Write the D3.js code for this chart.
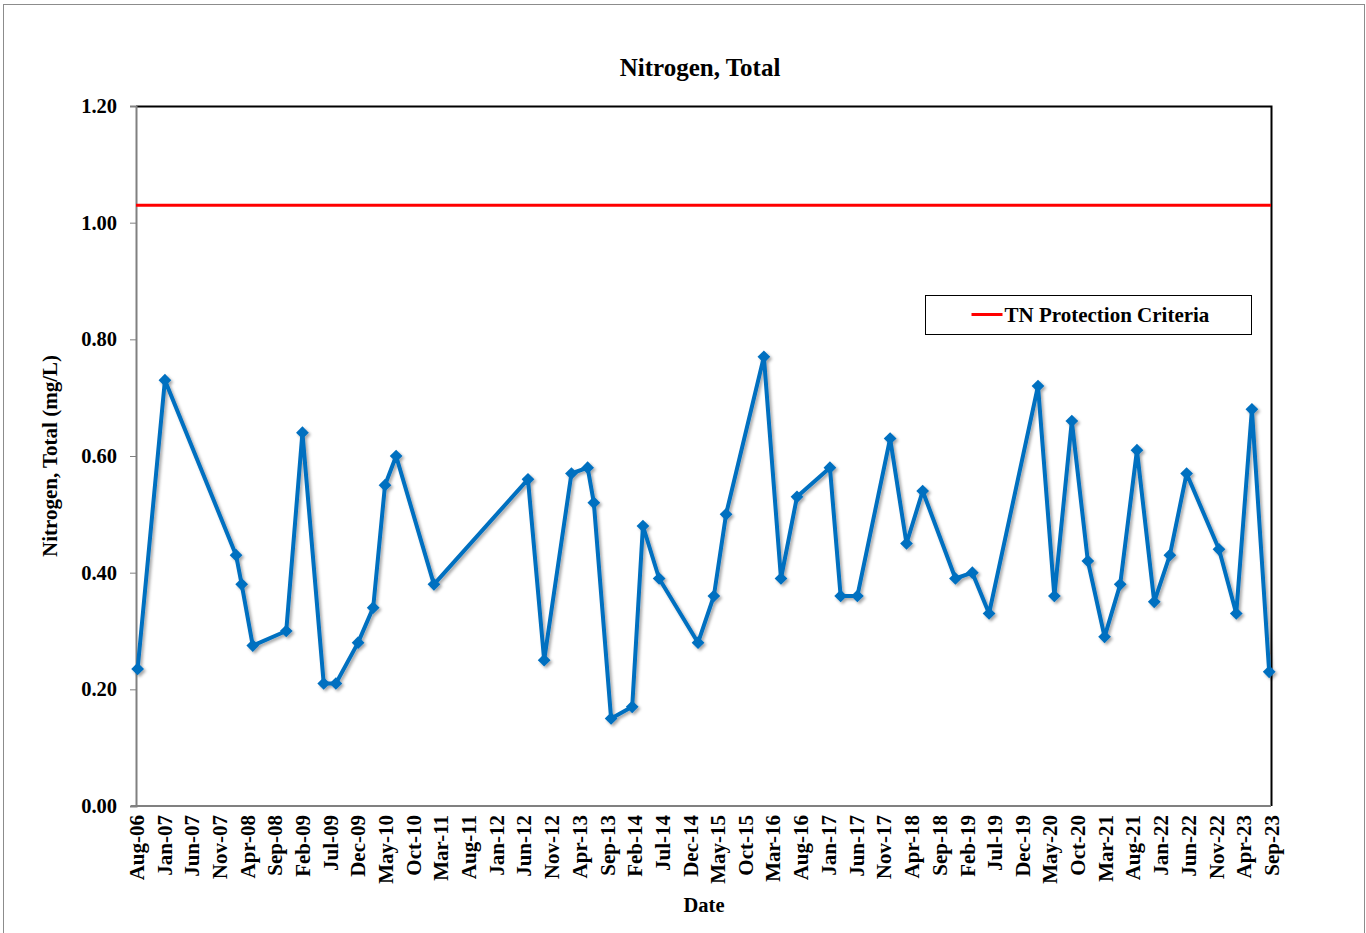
<!DOCTYPE html>
<html>
<head>
<meta charset="utf-8">
<script src="https://cdn.jsdelivr.net/npm/d3@7"></script>
<style>
  body { margin: 0; background: #fff; }
  svg text { font-family: "Liberation Serif", "Times New Roman", serif; font-weight: bold; fill: #000; }
</style>
</head>
<body>
<script>
// sample dates and TN results (mg/L)
var sampleDates = [
  "2006-08-10", "2007-01-07", "2008-02-02", "2008-03-04", "2008-05-04", "2008-11-04",
  "2009-02-01", "2009-05-29", "2009-08-04", "2009-12-04", "2010-02-25", "2010-05-01",
  "2010-07-01", "2011-01-25", "2012-06-25", "2012-09-22", "2013-02-19", "2013-05-19",
  "2013-06-22", "2013-09-25", "2014-01-19", "2014-03-19", "2014-06-16", "2015-01-16",
  "2015-04-13", "2015-06-19", "2016-01-13", "2016-04-16", "2016-07-13", "2017-01-10",
  "2017-03-10", "2017-06-10", "2017-12-07", "2018-03-07", "2018-06-04", "2018-12-01",
  "2019-03-04", "2019-06-04", "2020-02-28", "2020-05-28", "2020-09-01", "2020-11-28",
  "2021-02-28", "2021-05-25", "2021-08-25", "2021-11-28", "2022-02-22", "2022-05-25",
  "2022-11-19", "2023-02-22", "2023-05-19", "2023-08-22"
];
var tnValues = [
  0.235, 0.73, 0.43, 0.38, 0.275, 0.30,
  0.64, 0.21, 0.21, 0.28, 0.34, 0.55,
  0.60, 0.38, 0.56, 0.25, 0.57, 0.58,
  0.52, 0.15, 0.17, 0.48, 0.39, 0.28,
  0.36, 0.50, 0.77, 0.39, 0.53, 0.58,
  0.36, 0.36, 0.63, 0.45, 0.54, 0.39,
  0.40, 0.33, 0.72, 0.36, 0.66, 0.42,
  0.29, 0.38, 0.61, 0.35, 0.43, 0.57,
  0.44, 0.33, 0.68, 0.23
];
var criteria = 1.03;
var criteriaLabel = "TN Protection Criteria";

var xTickLabels = [
  "Aug-06", "Jan-07", "Jun-07", "Nov-07", "Apr-08", "Sep-08", "Feb-09", "Jul-09",
  "Dec-09", "May-10", "Oct-10", "Mar-11", "Aug-11", "Jan-12", "Jun-12", "Nov-12",
  "Apr-13", "Sep-13", "Feb-14", "Jul-14", "Dec-14", "May-15", "Oct-15", "Mar-16",
  "Aug-16", "Jan-17", "Jun-17", "Nov-17", "Apr-18", "Sep-18", "Feb-19", "Jul-19",
  "Dec-19", "May-20", "Oct-20", "Mar-21", "Aug-21", "Jan-22", "Jun-22", "Nov-22",
  "Apr-23", "Sep-23"
];
var yTicks = [0, 0.2, 0.4, 0.6, 0.8, 1.0, 1.2];

var parseDay = d3.timeParse("%Y-%m-%d");
var parseTick = d3.timeParse("%b-%y");
var data = sampleDates.map(function(d, i) { return {date: parseDay(d), value: tnValues[i]}; });
var tickDates = xTickLabels.map(parseTick);

// plot box
var margin = {top: 106, right: 95, bottom: 127, left: 136},
    width = 1366 - margin.left - margin.right,
    height = 933 - margin.top - margin.bottom;

var svg = d3.select("body").append("svg")
    .attr("width", 1366)
    .attr("height", 933);

// drop shadow for the series
var defs = svg.append("defs");
defs.append("filter")
    .attr("id", "shadow")
    .attr("x", "-10%").attr("y", "-10%")
    .attr("width", "120%").attr("height", "120%")
  .append("feDropShadow")
    .attr("dx", 2).attr("dy", 2)
    .attr("stdDeviation", 1.5)
    .attr("flood-color", "#000")
    .attr("flood-opacity", 0.35);

// outer chart frame
svg.append("rect")
    .attr("x", 3.5).attr("y", 4.5)
    .attr("width", 1361).attr("height", 940)
    .attr("fill", "none")
    .attr("stroke", "#8c8c8c")
    .attr("stroke-width", 1);

var g = svg.append("g")
    .attr("transform", "translate(" + margin.left + "," + margin.top + ")");

var x = d3.scaleTime()
    .domain([tickDates[0], tickDates[tickDates.length - 1]])
    .range([0, width]);
var y = d3.scaleLinear()
    .domain([0, 1.2])
    .range([height, 0]);

// top and right border of plot area
g.append("path")
    .attr("d", "M0,0.5H" + (width + 0.5) + "V" + height)
    .attr("fill", "none")
    .attr("stroke", "#000")
    .attr("stroke-width", 2);

// y axis
var yAxis = g.append("g")
    .call(d3.axisLeft(y).tickValues(yTicks).tickFormat(d3.format(".2f")).tickSize(6));
yAxis.select(".domain").attr("stroke", "#808080").attr("stroke-width", 2);
yAxis.selectAll(".tick line").attr("stroke", "#808080");
yAxis.selectAll(".tick text")
    .attr("x", -19)
    .style("font-size", "20.5px");

// x axis
var xAxis = g.append("g")
    .attr("transform", "translate(0," + height + ")")
    .call(d3.axisBottom(x).tickValues(tickDates).tickFormat(function(d, i) { return xTickLabels[i]; }).tickSize(0));
xAxis.select(".domain").attr("stroke", "#808080").attr("stroke-width", 2)
    .attr("d", "M-5,0H" + width);
xAxis.selectAll(".tick text")
    .attr("transform", "rotate(-90)")
    .attr("x", -9)
    .attr("y", 0)
    .attr("dy", "0.35em")
    .style("text-anchor", "end")
    .style("font-size", "21px");

// criteria line
g.append("line")
    .attr("x1", 0).attr("x2", width)
    .attr("y1", y(criteria)).attr("y2", y(criteria))
    .attr("stroke", "#ff0000")
    .attr("stroke-width", 3);

// TN series
var series = g.append("g").attr("filter", "url(#shadow)");
series.append("path")
    .datum(data)
    .attr("fill", "none")
    .attr("stroke", "#0070c0")
    .attr("stroke-width", 4)
    .attr("stroke-linejoin", "round")
    .attr("d", d3.line()
        .x(function(d) { return x(d.date); })
        .y(function(d) { return y(d.value); }));

series.selectAll(".pt")
    .data(data)
  .enter().append("path")
    .attr("class", "pt")
    .attr("transform", function(d) { return "translate(" + x(d.date) + "," + y(d.value) + ") rotate(45)"; })
    .attr("d", "M-4.5,-4.5H4.5V4.5H-4.5Z")
    .attr("fill", "#0070c0");

// legend
var legend = svg.append("g").attr("transform", "translate(925.5,295.5)");
legend.append("rect")
    .attr("width", 326).attr("height", 39)
    .attr("fill", "#fff")
    .attr("stroke", "#000")
    .attr("stroke-width", 1);
legend.append("line")
    .attr("x1", 46).attr("x2", 77)
    .attr("y1", 19).attr("y2", 19)
    .attr("stroke", "#ff0000")
    .attr("stroke-width", 3);
legend.append("text")
    .attr("x", 79).attr("y", 26)
    .style("font-size", "21px")
    .text(criteriaLabel);

// titles
svg.append("text")
    .attr("x", 700).attr("y", 76)
    .attr("text-anchor", "middle")
    .style("font-size", "25px")
    .text("Nitrogen, Total");

svg.append("text")
    .attr("transform", "translate(57," + (margin.top + height / 2) + ") rotate(-90)")
    .attr("text-anchor", "middle")
    .style("font-size", "21px")
    .text("Nitrogen, Total (mg/L)");

svg.append("text")
    .attr("x", 704).attr("y", 912)
    .attr("text-anchor", "middle")
    .style("font-size", "20.5px")
    .text("Date");
</script>
</body>
</html>
